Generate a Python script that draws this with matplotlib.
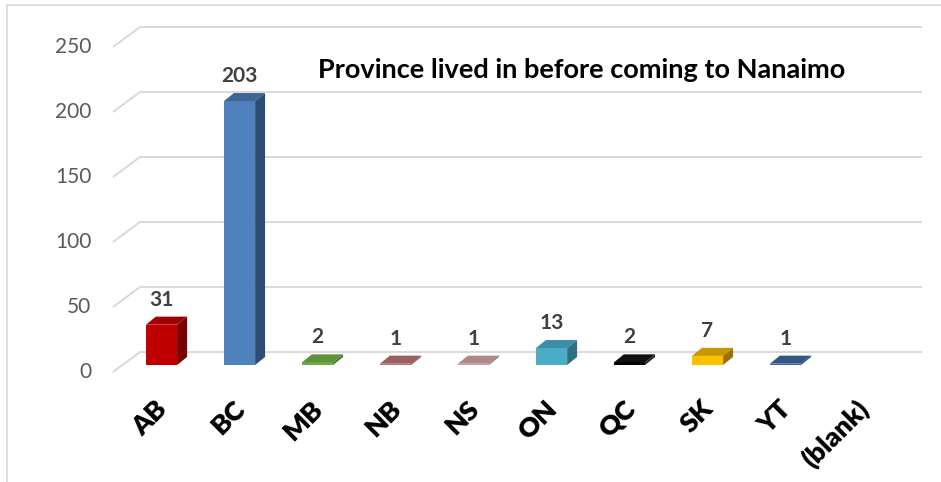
import matplotlib
matplotlib.use("Agg")
import matplotlib.pyplot as plt
from matplotlib.patches import Polygon, Rectangle

plt.rcParams['font.family'] = ['Lato', 'DejaVu Sans']

# data
provinces = ["AB", "BC", "MB", "NB", "NS", "ON", "QC", "SK", "YT", "(blank)"]
counts = [31, 203, 2, 1, 1, 13, 2, 7, 1, 0]
front_colors = ["#c00000", "#4f81bd", "#70ad47", "#b47373", "#c49c9c",
                "#4bacc6", "#000000", "#ffc000", "#3f6797", "#888888"]
top_colors = ["#a00000", "#3f6594", "#5f9339", "#9c5f5f", "#b08888",
              "#3a8ea5", "#111111", "#c89600", "#335784", "#777777"]
side_colors = ["#7a0000", "#2f4d72", "#4a7530", "#7f4a4a", "#957070",
               "#2e7183", "#222222", "#9a7400", "#284467", "#666666"]
yticks = [0, 50, 100, 150, 200, 250]
title = "Province lived in before coming to Nanaimo"

W, H = 941, 482
fig = plt.figure(figsize=(W / 100, H / 100), dpi=100)
ax = fig.add_axes([0, 0, 1, 1])
# map axes so 1 category = 78px, 1 unit = 1.3px
ax.set_xlim((0 - 161.5) / 78, (W - 161.5) / 78)
ax.set_ylim((365 - H) / 1.3, 365 / 1.3)
ax.axis("off")

# chart border
fig.patches.append(Rectangle((7 / W, -0.1), 1.2, (H - 5) / H + 0.1,
                             transform=fig.transFigure, fill=False,
                             edgecolor="#d9d9d9", lw=1.2))

# back wall gridlines with perspective floor edge
back_x0, back_x1 = -0.276, 9.75
front_x0 = -0.622
back_dy, front_dy = 10, -5.4
for t in yticks:
    ax.plot([front_x0, back_x0, back_x1], [t + front_dy, t + back_dy, t + back_dy],
            color="#d9d9d9", lw=1.4, zorder=1, solid_capstyle="butt")
    ax.text(front_x0 - 0.28, t + front_dy, str(t), ha="right", va="center",
            fontsize=15, color="#595959")

# 3d-ish bars
w = 0.4
dx, dy = 0.128, 6.2
xs = list(range(len(provinces)))
ax.bar(xs, counts, width=w, color=front_colors, zorder=3)
for x, v, tc, sc in zip(xs, counts, top_colors, side_colors):
    if v <= 0:
        continue
    xl, xr = x - w / 2, x + w / 2
    ax.add_patch(Polygon([(xl, v), (xr, v), (xr + dx, v + dy), (xl + dx, v + dy)],
                         closed=True, facecolor=tc, edgecolor="none", zorder=3))
    ax.add_patch(Polygon([(xr, 0), (xr + dx, dy), (xr + dx, v + dy), (xr, v)],
                         closed=True, facecolor=sc, edgecolor="none", zorder=3))
    ax.text(x, v + dy + 8.5, str(v), ha="center", va="baseline",
            fontsize=15, fontweight="bold", color="#404040", zorder=4)

# category labels
for x, name in zip(xs, provinces):
    ax.text(x + 0.02, -30.5, name, rotation=45, rotation_mode="anchor", ha="right",
            va="center", fontsize=19.5, fontweight="heavy", color="black")

ax.text((318 - 161.5) / 78, (365 - 78) / 1.3, title, ha="left", va="baseline",
        fontsize=19.5, fontweight="bold", color="black")

fig.savefig("out.png", dpi=100)
